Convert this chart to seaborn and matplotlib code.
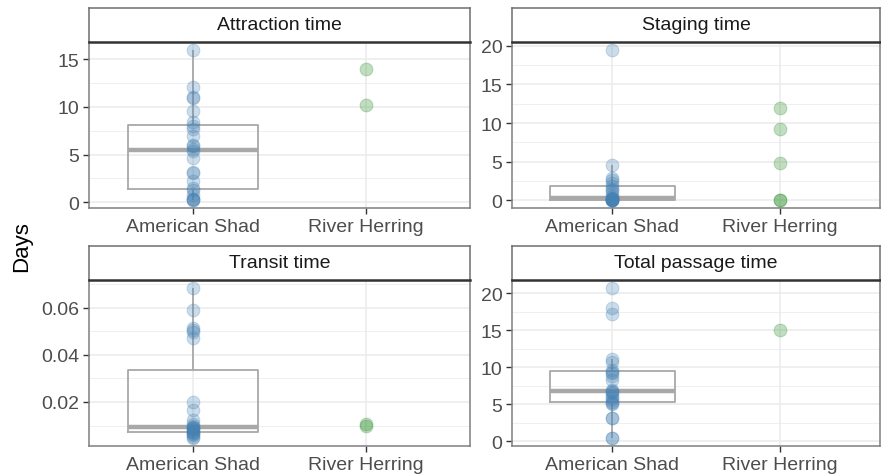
import numpy as np
import pandas as pd
import matplotlib
matplotlib.use("Agg")
import matplotlib.pyplot as plt
from matplotlib.ticker import AutoMinorLocator, FixedLocator
import seaborn as sns

# ---------------- data ----------------
species = ["American Shad", "River Herring"]
panel_titles = ["Attraction time", "Staging time", "Transit time", "Total passage time"]

attraction_shad = [0.2, 0.2, 0.3, 0.4, 0.8, 1.3, 1.5, 2.2, 3.1, 3.2, 4.6, 5.4,
                   5.6, 5.9, 6.0, 6.9, 7.7, 8.0, 8.4, 9.6, 10.9, 11.0, 12.1, 16.0]
attraction_herring = [13.95, 10.2]

staging_shad = [0.0, 0.0, 0.0, 0.0, 0.0, 0.05, 0.15, 0.2, 0.25, 0.3, 0.35, 0.6,
                0.9, 1.3, 1.5, 1.9, 2.2, 2.6, 2.9, 4.55, 19.5]
staging_herring = [12.0, 9.2, 4.8, 0.05, 0.0]

transit_shad = [0.0045, 0.005, 0.0058, 0.0065, 0.007, 0.0072, 0.0074, 0.008,
                0.0085, 0.0088, 0.009, 0.0093, 0.0098, 0.0105, 0.0125, 0.0165,
                0.0198, 0.047, 0.0499, 0.0505, 0.0513, 0.0589, 0.0686]
transit_herring = [0.0107, 0.0098]

total_shad = [0.4, 0.45, 3.1, 3.2, 5.0, 5.2, 5.35, 5.6, 5.9, 6.2, 6.5, 6.7,
              6.85, 7.0, 8.3, 8.9, 9.2, 9.4, 9.7, 10.8, 11.1, 17.2, 18.0, 20.8]
total_herring = [15.0]

yticks_attraction = [0, 5, 10, 15]
yticks_staging = [0, 5, 10, 15, 20]
yticks_transit = [0.02, 0.04, 0.06]
yticks_total = [0, 5, 10, 15, 20]
ytick_labels_transit = ["0.02", "0.04", "0.06"]

panels = [
    (panel_titles[0], attraction_shad, attraction_herring, yticks_attraction, None),
    (panel_titles[1], staging_shad, staging_herring, yticks_staging, None),
    (panel_titles[2], transit_shad, transit_herring, yticks_transit, ytick_labels_transit),
    (panel_titles[3], total_shad, total_herring, yticks_total, None),
]

colors = {"American Shad": "#4682B4", "River Herring": "#228B22"}

# ---------------- style ----------------
sns.set_theme(style="white")
plt.rcParams["font.family"] = ["Liberation Sans", "DejaVu Sans"]

W, H = 881, 477
fig = plt.figure(figsize=(W / 100, H / 100), dpi=100)

# panel boxes in pixels: (left, top, right, bottom)
boxes = [
    (89, 43, 470, 209),
    (512, 43, 880, 209),
    (89, 281, 470, 447),
    (512, 281, 880, 447),
]
strip_h = 34.5

tick_col = "#4D4D4D"
for (title, shad, herring, yt, ylabels), (l, t, r, b) in zip(panels, boxes):
    ax = fig.add_axes([l / W, 1 - b / H, (r - l) / W, (b - t) / H])
    df = pd.DataFrame({
        "species": ["American Shad"] * len(shad) + ["River Herring"] * len(herring),
        "value": list(shad) + list(herring),
    })
    ax.set_axisbelow(True)
    sns.boxplot(data=df[df["species"] == "American Shad"], x="species", y="value",
                order=species, width=0.75, showfliers=False, showcaps=False,
                fill=False, color="#A8A8A8", linewidth=1.3, whis=1.5,
                medianprops={"linewidth": 3.2, "color": "#A8A8A8"}, ax=ax)
    for sp in species:
        sub = df[df["species"] == sp]
        sns.stripplot(data=sub, x="species", y="value", order=species,
                      jitter=False, size=9.2, color=colors[sp], alpha=0.28,
                      edgecolor=colors[sp], linewidth=0.7, ax=ax, zorder=3)
    vmin, vmax = df["value"].min(), df["value"].max()
    pad = 0.05 * (vmax - vmin)
    ax.set_ylim(vmin - pad, vmax + pad)
    ax.set_xlim(-0.6, 1.6)
    ax.yaxis.set_major_locator(FixedLocator(yt))
    if ylabels is not None:
        ax.set_yticklabels(ylabels)
    ax.yaxis.set_minor_locator(AutoMinorLocator(2))
    ax.grid(which="major", axis="both", color="#EBEBEB", linewidth=1.1)
    ax.grid(which="minor", axis="y", color="#EBEBEB", linewidth=0.55)
    ax.tick_params(axis="both", which="major", length=4, width=1,
                   color="#333333", labelcolor=tick_col, labelsize=14, pad=3,
                   left=True, bottom=True)
    ax.tick_params(axis="y", which="minor", length=0)
    ax.set_xlabel("")
    ax.set_ylabel("")
    for s in ax.spines.values():
        s.set_color("#7F7F7F")
        s.set_linewidth(1.1)
    # strip
    sax = fig.add_axes([l / W, 1 - t / H, (r - l) / W, strip_h / H])
    sax.set_xticks([])
    sax.set_yticks([])
    sax.set_facecolor("white")
    for name, s in sax.spines.items():
        s.set_color("#6E6E6E")
        s.set_linewidth(1.1)
    sax.spines["bottom"].set_color("#333333")
    sax.spines["bottom"].set_linewidth(1.8)
    sax.text(0.5, 0.5, title, ha="center", va="center", fontsize=14,
             color="#1A1A1A", transform=sax.transAxes)

fig.text(22 / W, 1 - 247 / H, "Days", rotation=90, ha="center", va="center",
         fontsize=16, color="black")

fig.savefig("out.png", dpi=100)
